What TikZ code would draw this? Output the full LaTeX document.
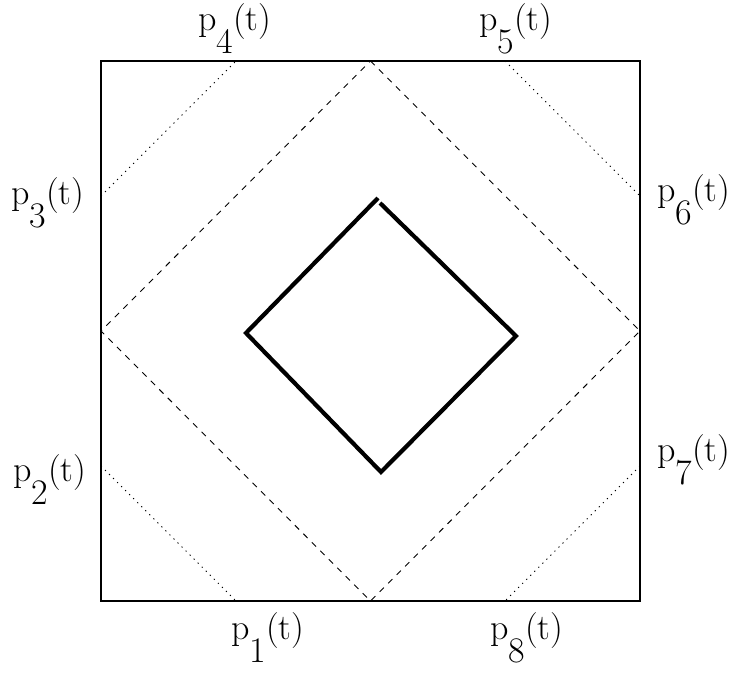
\documentclass[tikz,border=0pt]{standalone}
\newcommand{\plab}[1]{p\raisebox{-23pt}{#1}(t)}
\begin{document}
\begin{tikzpicture}[x=1pt,y=-1pt,
  frame/.style={line width=1.2pt},
  dashline/.style={line width=0.9pt,dash pattern=on 6pt off 6pt},
  dotline/.style={line width=1pt,dash pattern=on 1.2pt off 4.5pt},
  thickline/.style={line width=4.2pt},
  lab/.style={font=\fontsize{36}{40}\selectfont,inner sep=0pt,anchor=base west}]
\useasboundingbox (0,0) rectangle (736,675);
% corners
\coordinate (A) at (101,61);
\coordinate (B) at (640,61);
\coordinate (C) at (640,601);
\coordinate (D) at (101,601);
\draw[frame] (A) rectangle (C);
% dashed diamond
\coordinate (dT) at (370.5,61);
\coordinate (dR) at (640,331);
\coordinate (dB) at (370.5,601);
\coordinate (dL) at (101,331);
\draw[dashline] (dT) -- (dR) -- (dB) -- (dL) -- cycle;
% dotted corner cuts
\coordinate (q1a) at (101,196); \coordinate (q1b) at (236,61);
\coordinate (q2a) at (505,61); \coordinate (q2b) at (640,196);
\coordinate (q3a) at (640,466); \coordinate (q3b) at (505,601);
\coordinate (q4a) at (101,466); \coordinate (q4b) at (236,601);
\draw[dotline] (q1a) -- (q1b);
\draw[dotline] (q2a) -- (q2b);
\draw[dotline] (q3a) -- (q3b);
\draw[dotline] (q4a) -- (q4b);
% thick diamond
\coordinate (t0) at (380,203);
\coordinate (t1) at (516,336);
\coordinate (t2) at (381,472);
\coordinate (t3) at (246,333);
\coordinate (t4) at (378,198);
\draw[thickline,line join=miter] (t0) -- (t1) -- (t2) -- (t3) -- (t4);
% labels
\node[lab] (p4) at (198,30) {\plab{4}};
\node[lab] (p5) at (479,30) {\plab{5}};
\node[lab] (p3) at (11,204) {\plab{3}};
\node[lab] (p6) at (657,201) {\plab{6}};
\node[lab] (p2) at (13,481) {\plab{2}};
\node[lab] (p7) at (657,461) {\plab{7}};
\node[lab] (p1) at (231,639) {\plab{1}};
\node[lab] (p8) at (490,639) {\plab{8}};
\end{tikzpicture}
\end{document}
